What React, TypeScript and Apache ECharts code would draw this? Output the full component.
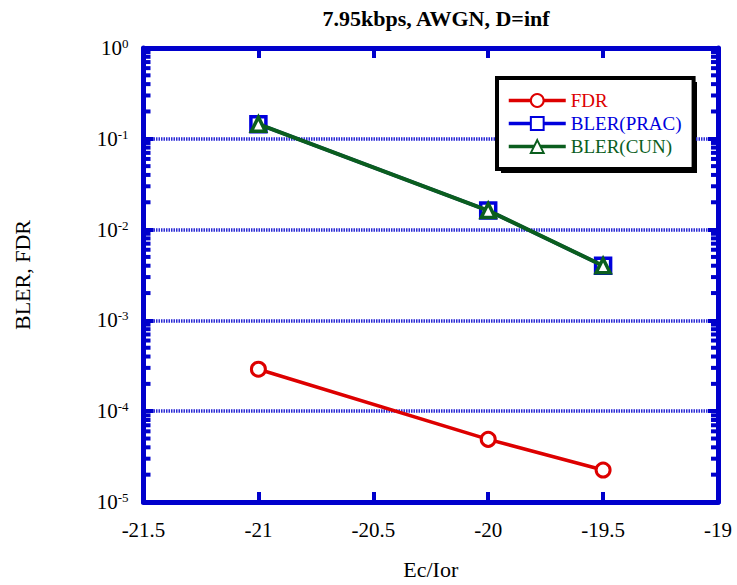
import React, { useEffect, useRef } from "react";
import * as echarts from "echarts";

const xValues = [-21, -20, -19.5];
const fdr = [2.9e-4, 4.9e-5, 2.25e-5];
const blerPrac = [0.145, 0.0162, 0.004];
const blerCun = [0.145, 0.0162, 0.004];
const xTickMin = -21.5;
const xTickMax = -19;
const yMin = 1e-5;
const yMax = 1;
const decades = [-5, -4, -3, -2, -1];
const minorMultipliers = [2, 3, 4, 5, 6, 7, 8, 9];
const seriesNames = ["FDR", "BLER(PRAC)", "BLER(CUN)"];
const titleText = "7.95kbps, AWGN, D=inf";
const xName = "Ec/Ior";
const yName = "BLER, FDR";

const AXIS = "#0000cc";
const RED = "#dd0000";
const BLUE = "#0000dd";
const GREEN = "#0b5e1e";
const FONT = "'Liberation Serif', 'Times New Roman', serif";

export default function App() {
  const ref = useRef<HTMLDivElement>(null);
  useEffect(() => {
    if (!ref.current) return;
    const chart = echarts.init(ref.current, undefined, { renderer: "svg" });
    const minorData: number[][] = [];
    decades.forEach((d) =>
      minorMultipliers.forEach((m) => minorData.push([xTickMin, m * Math.pow(10, d)]))
    );
    const mk = (ys: number[]) => xValues.map((x, i) => [x, ys[i]]);
    const yAxisBase = {
      type: "log",
      logBase: 10,
      min: yMin,
      max: yMax,
      splitNumber: 5,
    };
    const axisLine = { show: true, onZero: false, lineStyle: { color: AXIS, width: 5 } };
    const axisTick = { show: true, inside: true, length: 10, lineStyle: { color: AXIS, width: 4 } };
    chart.setOption({
      animation: false,
      backgroundColor: "#fff",
      title: {
        text: titleText,
        left: 431,
        top: 2,
        textAlign: "center",
        textStyle: { fontFamily: FONT, fontWeight: "bold", fontSize: 22, color: "#000" },
      },
      graphic: [
        {
          type: "rect",
          z: 0,
          silent: true,
          shape: { x: 501, y: 82, width: 196, height: 91 },
          style: { fill: "#000" },
        },
      ],
      grid: { left: 143.5, right: 19, top: 48, bottom: 80, containLabel: false },
      legend: {
        orient: "vertical",
        left: 497,
        top: 78,
        z: 10,
        padding: [13, 12, 13, 10],
        itemGap: 4,
        itemWidth: 57,
        itemHeight: 16,
        backgroundColor: "#fff",
        borderColor: "#000",
        borderWidth: 4,
        borderRadius: 0,
        lineStyle: { width: 3.5 },
        textStyle: { fontFamily: FONT, fontSize: 19, lineHeight: 19 },
        data: [
          { name: seriesNames[0], textStyle: { color: RED } },
          { name: seriesNames[1], textStyle: { color: BLUE } },
          { name: seriesNames[2], textStyle: { color: GREEN } },
        ],
      },
      xAxis: [
        {
          type: "value",
          min: xTickMin,
          max: xTickMax,
          interval: 0.5,
          name: xName,
          nameLocation: "middle",
          nameGap: 56,
          nameTextStyle: { fontFamily: FONT, fontSize: 22, color: "#000" },
          axisLine,
          axisTick,
          axisLabel: {
            margin: 17,
            fontFamily: FONT,
            fontSize: 21,
            color: "#000",
            formatter: (v: number) => String(v),
          },
          splitLine: { show: false },
        },
        {
          type: "value",
          position: "top",
          min: xTickMin,
          max: xTickMax,
          interval: 0.5,
          axisLine,
          axisTick,
          axisLabel: { show: false },
          splitLine: { show: false },
        },
      ],
      yAxis: [
        {
          ...yAxisBase,
          name: yName,
          nameLocation: "middle",
          nameGap: 110,
          nameRotate: 90,
          nameTextStyle: { fontFamily: FONT, fontSize: 22, color: "#000" },
          axisLine,
          axisTick,
          axisLabel: {
            margin: 15,
            formatter: (v: number) => `{b|10}{s|${Math.round(Math.log10(v))}}`,
            rich: {
              b: { fontFamily: FONT, fontSize: 21, color: "#000", lineHeight: 22 },
              s: { fontFamily: FONT, fontSize: 13, color: "#000", verticalAlign: "top", lineHeight: 13 },
            },
          },
          splitLine: {
            show: true,
            showMinLine: false,
            showMaxLine: false,
            lineStyle: { color: "#2a2ad6", width: 3.5, type: [1.5, 1] },
          },
        },
        {
          ...yAxisBase,
          position: "right",
          axisLine,
          axisTick,
          axisLabel: { show: false },
          splitLine: { show: false },
        },
      ],
      series: [
        {
          type: "custom",
          name: "minorTicks",
          silent: true,
          clip: false,
          xAxisIndex: 0,
          yAxisIndex: 0,
          z: 1,
          data: minorData,
          renderItem: (_p: any, api: any) => {
            const v = api.value(1);
            const pl = api.coord([xTickMin, v]);
            const pr = api.coord([xTickMax, v]);
            return {
              type: "group",
              children: [
                { type: "line", shape: { x1: pl[0], y1: pl[1], x2: pl[0] + 7, y2: pl[1] }, style: { stroke: AXIS, lineWidth: 4 } },
                { type: "line", shape: { x1: pr[0] - 7, y1: pr[1], x2: pr[0], y2: pr[1] }, style: { stroke: AXIS, lineWidth: 4 } },
              ],
            };
          },
        },
        {
          type: "line",
          name: seriesNames[0],
          data: mk(fdr),
          symbol: "circle",
          symbolSize: 14,
          lineStyle: { color: RED, width: 3.5 },
          itemStyle: { color: "#fff", borderColor: RED, borderWidth: 3 },
          z: 3,
        },
        {
          type: "line",
          name: seriesNames[1],
          data: mk(blerPrac),
          symbol: "rect",
          symbolSize: 15,
          lineStyle: { color: BLUE, width: 3.5 },
          itemStyle: { color: "#fff", borderColor: BLUE, borderWidth: 3.5 },
          z: 4,
        },
        {
          type: "line",
          name: seriesNames[2],
          data: mk(blerCun),
          symbol: "triangle",
          symbolSize: 14,
          lineStyle: { color: GREEN, width: 4 },
          itemStyle: { color: "#fff", borderColor: GREEN, borderWidth: 3.5 },
          z: 5,
        },
      ],
    });
    return () => chart.dispose();
  }, []);
  return <div ref={ref} style={{ width: 737, height: 585, position: "absolute", left: 0, top: 0 }} />;
}
